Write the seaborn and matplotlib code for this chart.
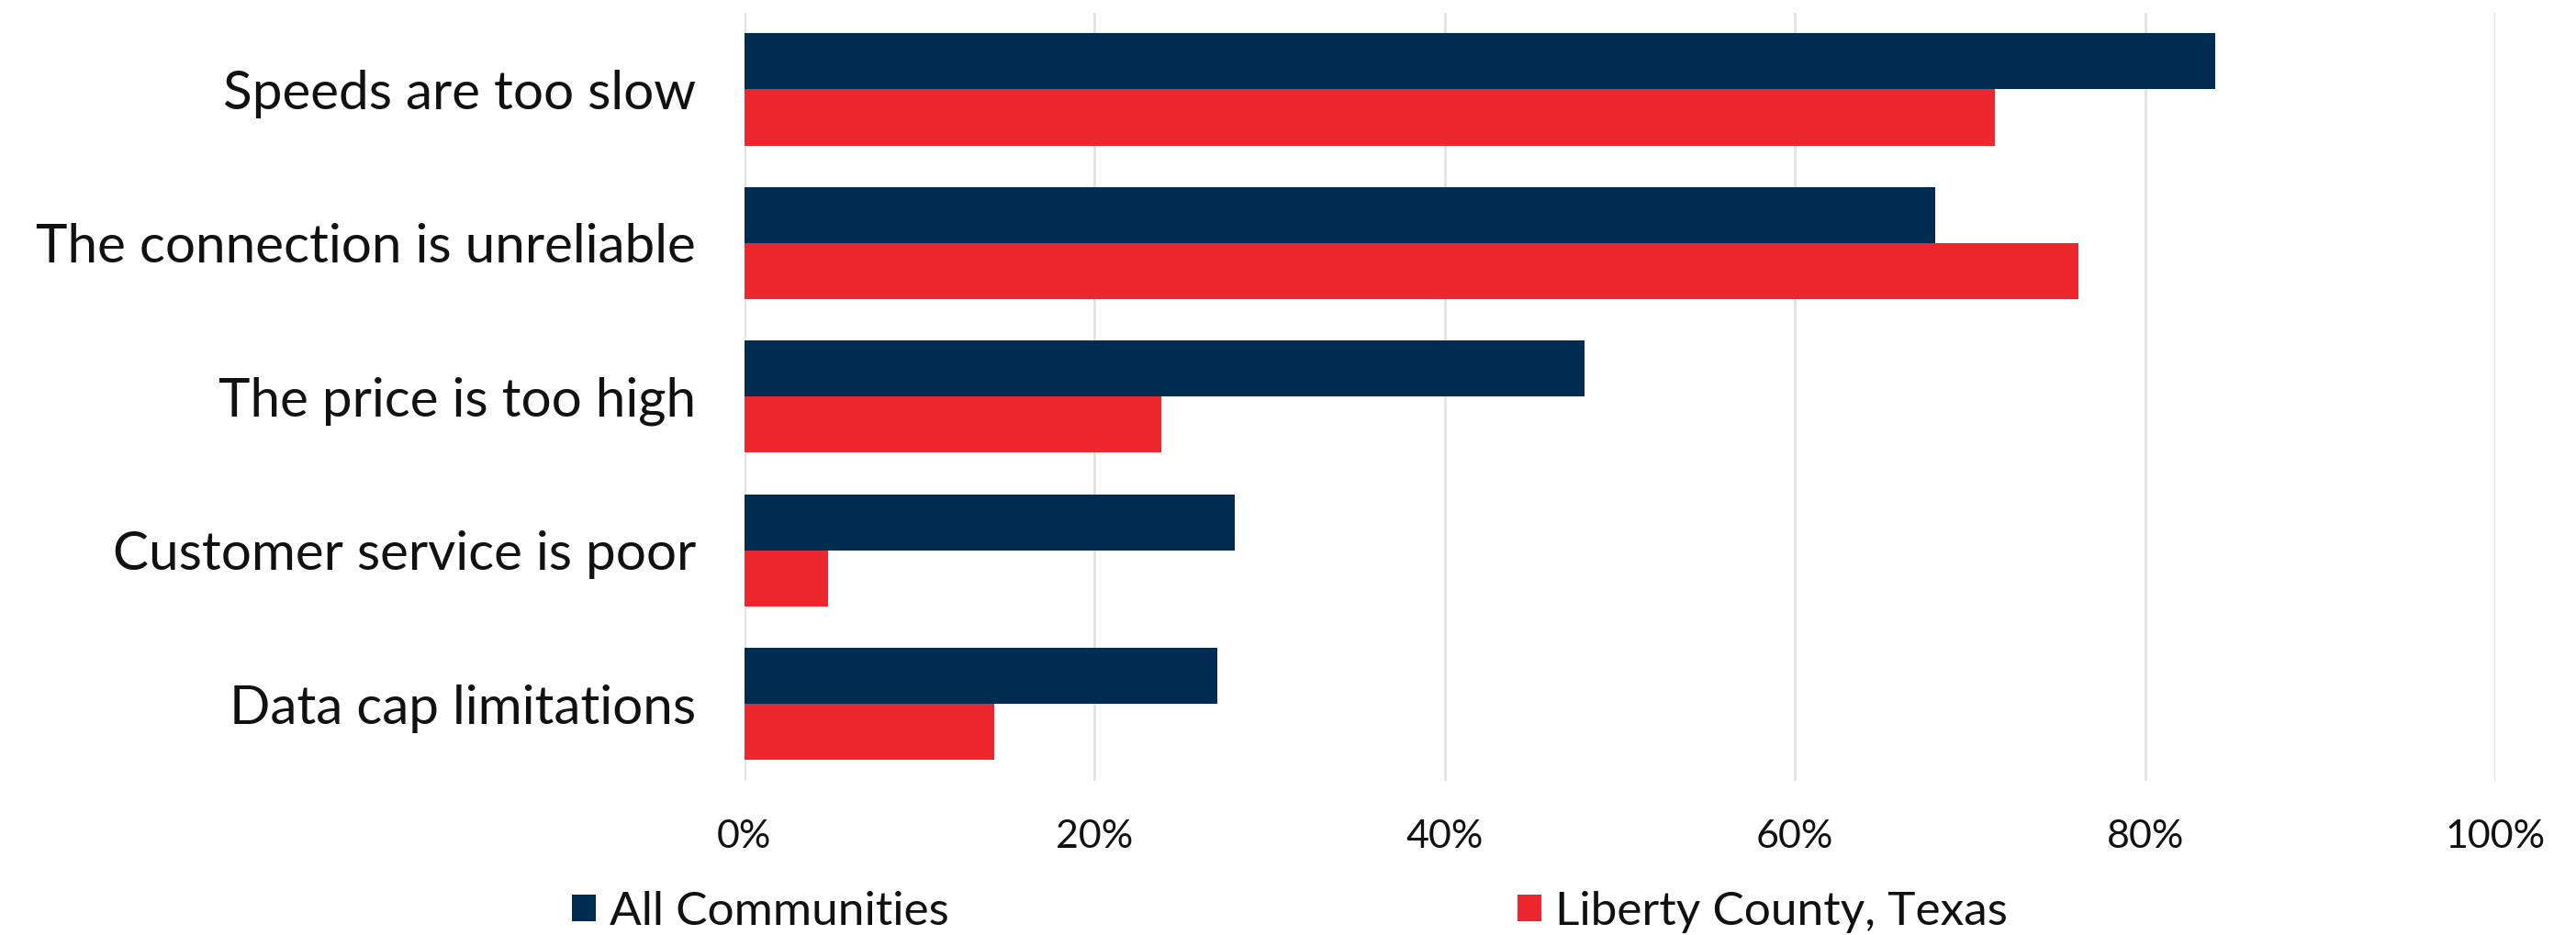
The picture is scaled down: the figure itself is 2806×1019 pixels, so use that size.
import matplotlib
matplotlib.use("Agg")
import matplotlib.pyplot as plt
import seaborn as sns
import pandas as pd
from matplotlib.ticker import FuncFormatter
from matplotlib.patches import Patch

categories = [
    "Speeds are too slow",
    "The connection is unreliable",
    "The price is too high",
    "Customer service is poor",
    "Data cap limitations",
]
series_names = ["All Communities", "Liberty County, Texas"]
all_communities = [84.0, 68.0, 48.0, 28.0, 27.0]
liberty_county = [71.4, 76.2, 23.8, 4.8, 14.3]
x_ticks = [0, 20, 40, 60, 80, 100]

colors = ["#012C52", "#EE272E"]

df = pd.DataFrame({
    "category": categories * 2,
    "series": [series_names[0]] * len(categories) + [series_names[1]] * len(categories),
    "value": all_communities + liberty_county,
})

sns.set_theme(style="white")
plt.rcParams["font.family"] = ["Lato", "DejaVu Sans"]

fig = plt.figure(figsize=(28.06, 10.19), dpi=100)
ax = fig.add_axes([0.2889, 0.165, 0.6798, 0.8215])

sns.barplot(
    data=df, y="category", x="value", hue="series",
    order=categories, hue_order=series_names,
    palette=colors, saturation=1, orient="h", width=0.73, linewidth=0,
    errorbar=None, ax=ax, legend=False,
)

ax.set_xlim(0, 100)
ax.set_ylim(4.5, -0.5)
ax.set_xticks(x_ticks)
ax.xaxis.set_major_formatter(FuncFormatter(lambda v, p: f"{v:.0f}%"))
ax.grid(axis="x", color="#e2e2e2", linewidth=2)
ax.grid(axis="y", visible=False)
ax.set_axisbelow(True)
for s in ax.spines.values():
    s.set_visible(False)
ax.set_xlabel("")
ax.set_ylabel("")
ax.tick_params(axis="y", length=0, pad=38, labelsize=42, labelcolor="#111111")
ax.tick_params(axis="x", length=0, pad=30, labelsize=31, labelcolor="#111111")

handles = [Patch(facecolor=c, edgecolor="none") for c in colors]
fig.legend(
    handles, series_names, loc="center left", bbox_to_anchor=(0.222, 0.025),
    ncol=2, frameon=False, fontsize=37, handlelength=0.5, handleheight=0.5,
    handletextpad=0.3, columnspacing=12.05, borderaxespad=0, borderpad=0,
    labelcolor="#111111",
)

fig.savefig("out.png", dpi=100, facecolor="white")
